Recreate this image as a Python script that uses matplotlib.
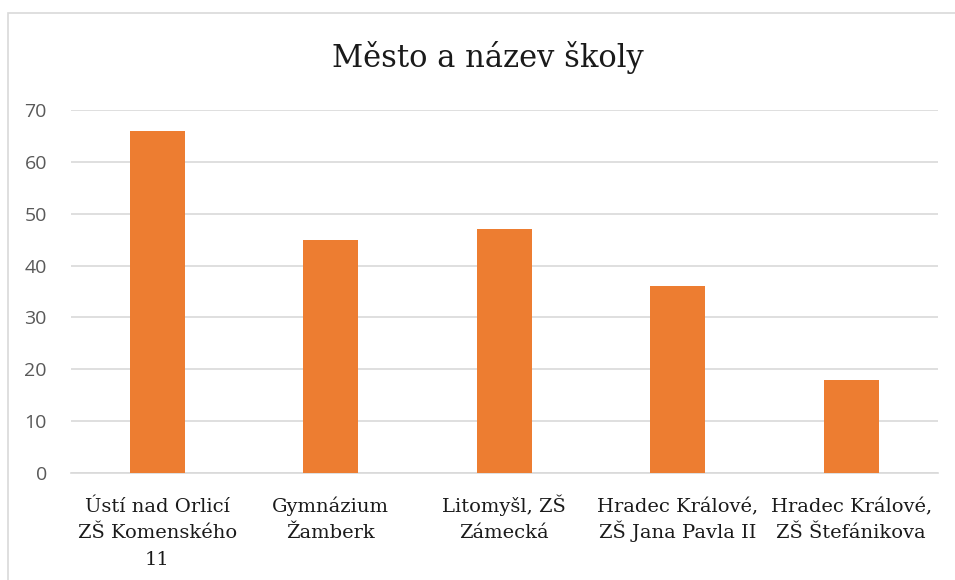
import matplotlib.pyplot as plt
from matplotlib.patches import Rectangle
from matplotlib.transforms import ScaledTranslation

categories = ["Ústí nad Orlicí\nZŠ Komenského\n11", "Gymnázium\nŽamberk", "Litomyšl, ZŠ\nZámecká",
              "Hradec Králové,\nZŠ Jana Pavla II", "Hradec Králové,\nZŠ Štefánikova"]
values = [66, 45, 47, 36, 18]
yticks = [0, 10, 20, 30, 40, 50, 60, 70]

W, H = 955, 580
fig = plt.figure(figsize=(W / 100, H / 100), dpi=100)

# chart border (the image is cropped at right and bottom)
fig.patches.append(Rectangle((7.5 / W, -0.1), 1.2, 1 - 13.5 / H + 0.1, transform=fig.transFigure,
                             fill=False, edgecolor="#d9d9d9", linewidth=1.2))

left, right, top, bottom = 70.5, 938, 110, 473
ax = fig.add_axes([left / W, 1 - bottom / H, (right - left) / W, (bottom - top) / H])

x = range(len(categories))
ax.bar(x, values, width=0.317, color="#ed7d31", zorder=3)
ax.set_xlim(-0.5, len(categories) - 0.5)
ax.set_ylim(0, 70)
ax.set_yticks(yticks)
ax.yaxis.grid(True, color="#d9d9d9", linewidth=1.2, zorder=0)
for s in ax.spines.values():
    s.set_visible(False)
ax.spines["bottom"].set_visible(True)
ax.spines["bottom"].set_color("#d9d9d9")
ax.spines["bottom"].set_linewidth(1.2)

ax.tick_params(axis="y", length=0, pad=17, labelsize=14, labelcolor="#595959")
for lab in ax.get_yticklabels():
    lab.set_fontfamily("Open Sans")
ax.set_xticks(list(x))
ax.set_xticklabels([])
ax.tick_params(axis="x", length=0)

# category labels line by line, so every line sits on the same baseline
for i, cat in enumerate(categories):
    for j, line in enumerate(cat.split("\n")):
        off = ScaledTranslation(0, -(39 + 26.5 * j) / 100, fig.dpi_scale_trans)
        ax.text(i, 0, line, transform=ax.get_xaxis_transform() + off, ha="center", va="baseline",
                fontsize=14, family="DejaVu Serif", color="#1a1a1a")

fig.text(488 / W, 1 - 58 / H, "Město a název školy", ha="center", va="center",
         fontsize=22, family="DejaVu Serif", color="#1a1a1a")

fig.savefig("out.png", dpi=100)
